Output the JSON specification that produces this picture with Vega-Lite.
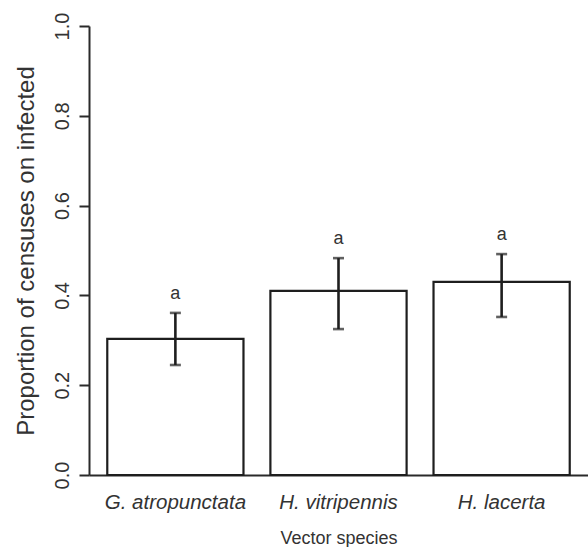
{
  "$schema": "https://vega.github.io/schema/vega-lite/v6.json",
  "width": 499,
  "height": 449,
  "autosize": {"type": "none"},
  "padding": {"left": 89, "top": 26, "right": 0, "bottom": 72},
  "background": "white",
  "config": {
    "view": {"stroke": null},
    "font": "Liberation Sans",
    "axis": {"grid": false, "labelColor": "#333", "titleColor": "#333", "domainColor": "#2a2a2a", "tickColor": "#2a2a2a", "titleFontWeight": "normal"}
  },
  "data": {
    "values": [
      {"species": "G. atropunctata", "p": 0.303, "lo": 0.245, "hi": 0.361, "sig": "a"},
      {"species": "H. vitripennis", "p": 0.410, "lo": 0.325, "hi": 0.483, "sig": "a"},
      {"species": "H. lacerta", "p": 0.430, "lo": 0.352, "hi": 0.492, "sig": "a"}
    ]
  },
  "encoding": {
    "x": {
      "field": "species", "type": "nominal", "sort": null,
      "scale": {"paddingInner": 0.165, "paddingOuter": 0.112},
      "axis": {"title": "Vector species", "labelAngle": 0, "ticks": false, "labelFontStyle": "italic", "labelFontSize": 20.5, "labelPadding": 17, "titleFontSize": 18, "titlePadding": 17, "domainWidth": 2}
    }
  },
  "layer": [
    {
      "mark": {"type": "bar", "fill": "white", "stroke": "#1e1e1e", "strokeWidth": 2.2},
      "encoding": {
        "y": {"field": "p", "type": "quantitative", "scale": {"domain": [0, 1], "nice": false},
          "axis": {"title": "Proportion of censuses on infected", "values": [0, 0.2, 0.4, 0.6, 0.8, 1.0], "format": ".1f", "labelAngle": -90, "labelAlign": "center", "labelBaseline": "bottom", "labelFontSize": 20, "labelPadding": 7, "tickSize": 10, "tickWidth": 2, "domainWidth": 2, "titleFontSize": 24, "titlePadding": 14}}
      }
    },
    {
      "mark": {"type": "rule", "stroke": "#1e1e1e", "strokeWidth": 2.6},
      "encoding": {"y": {"field": "lo", "type": "quantitative"}, "y2": {"field": "hi"}}
    },
    {
      "mark": {"type": "tick", "color": "#1e1e1e", "thickness": 2.6, "size": 11, "orient": "horizontal"},
      "encoding": {"y": {"field": "hi", "type": "quantitative"}}
    },
    {
      "mark": {"type": "tick", "color": "#1e1e1e", "thickness": 2.6, "size": 11, "orient": "horizontal"},
      "encoding": {"y": {"field": "lo", "type": "quantitative"}}
    },
    {
      "mark": {"type": "text", "fontSize": 18, "color": "#333", "baseline": "middle", "dy": -19},
      "encoding": {"y": {"field": "hi", "type": "quantitative"}, "text": {"field": "sig"}}
    }
  ]
}
